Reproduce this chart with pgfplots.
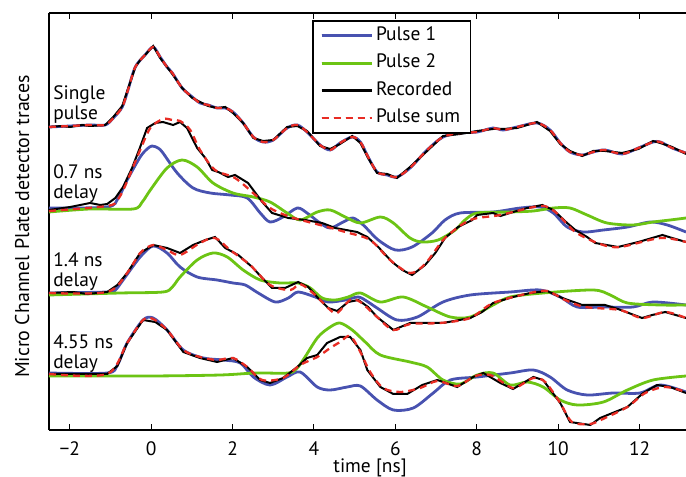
\documentclass[border=0pt]{standalone}
\usepackage{fontspec}
\setmainfont{PT Sans}
\usepackage{pgfplots}
\pgfplotsset{compat=1.18}
\definecolor{pone}{RGB}{72,82,176}
\definecolor{ptwo}{RGB}{108,196,20}
\definecolor{psum}{RGB}{232,44,36}
\newcommand{\ff}{\fontsize{19.5}{21}\selectfont}
\pgfplotsset{
  bl/.style={color=pone, line width=2.8bp, smooth, tension=0.5},
  gr/.style={color=ptwo, line width=2.8bp, smooth, tension=0.5},
  bk/.style={color=black, line width=2bp, sharp plot},
  rd/.style={color=psum, line width=2.3bp, dash pattern=on 7bp off 5bp, smooth, tension=0.5},
}
\begin{document}
\begin{tikzpicture}
\useasboundingbox (0,0) rectangle (686bp,477bp);
\begin{axis}[
  at={(49bp,47bp)}, anchor=south west,
  scale only axis, width=637bp, height=417bp,
  xmin=-2.51, xmax=13.14, ymin=47, ymax=464,
  axis x line*=box, axis y line*=left,
  ytick=\empty,
  xtick={-2,0,2,4,6,8,10,12},
  xticklabels={−2,0,2,4,6,8,10,12},
  major tick length=6bp,
  tick style={line width=1bp, black},
  axis line style={line width=1.3bp, black},
  xticklabel style={anchor=base, yshift=-25bp, font=\ff},
  xlabel={time [ns]},
  xlabel style={at={(axis description cs:0.504,-0.102)}, anchor=base, font=\ff},
  ylabel={Micro Channel Plate detector traces},
  ylabel style={at={(axis description cs:-0.042,0.488)}, anchor=center, font=\fontsize{20}{22}\selectfont},
  legend style={at={(axis description cs:0.4145,0.981)}, anchor=north west, draw=black, fill=white,
    preaction={draw=black, line width=2.4bp},
    inner xsep=7bp, inner ysep=4bp, row sep=6.5bp, font=\ff,
    nodes={inner ysep=2bp, inner xsep=3bp, text height=13bp, text depth=4bp}, cells={anchor=west}},
  legend image code/.code={\draw[#1] (0bp,0bp) -- (50bp,0bp);},
]
\addlegendimage{color=pone, line width=2.8bp}
\addlegendentry{Pulse 1}
\addlegendimage{color=ptwo, line width=2.8bp}
\addlegendentry{Pulse 2}
\addlegendimage{color=black, line width=2bp}
\addlegendentry{Recorded}
\addlegendimage{color=psum, line width=2.6bp, dash pattern=on 7bp off 5bp}
\addlegendentry{Pulse sum}
% ---- 0.7 ns delay ----
\addplot[bl, forget plot] coordinates {(-2.51,269)(-1.08,270)(-0.81,279)(-0.59,297)(-0.27,320)(-0.10,328)(0.02,331)(0.17,329)(0.29,324)(0.64,304)(1.03,289)(1.45,284)(1.94,282)(2.36,279)(2.68,264)(2.92,255)(3.24,260)(3.59,269)(3.83,264)(4.15,254)(4.40,249)(4.72,255)(4.96,259)(5.21,252)(5.58,237)(6.00,227)(6.41,230)(6.90,244)(7.22,257)(7.59,264)(8.40,265)(9.07,269)(9.56,270)(9.88,264)(10.22,250)(10.61,245)(11.11,247)(11.70,250)(12.26,255)(12.68,252)(13.14,245)};
\addplot[gr, forget plot] coordinates {(-2.51,265)(-1.50,268)(-0.44,268)(-0.22,275)(-0.02,287)(0.39,309)(0.76,317)(1.13,310)(1.52,294)(2.01,284)(2.51,280)(2.92,275)(3.34,264)(3.66,257)(4.08,265)(4.40,267)(4.77,260)(5.14,254)(5.63,260)(5.95,254)(6.36,239)(6.66,235)(7.05,237)(7.47,247)(7.71,257)(8.01,264)(8.82,265)(9.39,266)(9.88,269)(10.29,269)(10.71,262)(11.20,254)(11.84,252)(12.33,255)(12.75,257)(13.14,259)};
\addplot[bk, forget plot] coordinates {(-2.51,267)(-1.99,270)(-1.50,274)(-1.25,272)(-1.08,273)(-0.88,279)(-0.69,290)(-0.47,309)(-0.27,330)(-0.10,349)(0.10,354)(0.29,355)(0.54,352)(0.71,355)(0.88,349)(1.13,329)(1.33,319)(1.50,307)(1.65,305)(1.89,300)(2.06,302)(2.38,294)(2.73,275)(2.97,264)(3.37,259)(3.78,257)(4.20,254)(4.52,249)(5.06,245)(5.31,240)(5.58,230)(5.92,215)(6.17,207)(6.41,202)(6.73,212)(6.98,224)(7.22,239)(7.54,250)(7.89,257)(8.01,262)(8.40,264)(8.58,261)(8.89,265)(9.24,269)(9.61,272)(9.88,267)(10.22,254)(10.42,247)(10.71,240)(10.91,234)(11.47,230)(11.97,235)(12.56,242)(12.80,239)(13.14,235)};
\addplot[rd, forget plot] coordinates {(-2.51,266)(-1.08,271)(-0.83,277)(-0.64,291)(-0.27,327)(-0.02,349)(0.29,358)(0.52,357)(0.71,356)(0.96,347)(1.20,327)(1.57,307)(2.06,299)(2.56,282)(2.92,269)(3.42,260)(4.15,252)(4.77,245)(5.38,237)(5.87,217)(6.36,204)(6.73,213)(7.22,239)(7.84,257)(8.58,262)(9.56,271)(9.93,265)(10.42,245)(11.03,233)(11.52,230)(12.51,239)(13.14,235)};
% ---- single pulse ----
\addplot[bl, forget plot] coordinates {(-2.51,350)(-1.99,351)(-1.50,352)(-1.13,352)(-0.93,359)(-0.71,370)(-0.57,387)(-0.39,410)(-0.15,422)(0.05,430)(0.22,420)(0.39,410)(0.52,404)(0.76,389)(1.01,380)(1.20,374)(1.40,372)(1.62,369)(1.82,369)(2.01,365)(2.26,354)(2.51,340)(2.75,335)(3.00,337)(3.34,349)(3.59,352)(3.83,345)(4.15,332)(4.40,327)(4.64,334)(4.94,340)(5.14,335)(5.33,320)(5.55,305)(5.80,302)(6.04,300)(6.36,309)(6.78,327)(7.17,340)(7.59,344)(8.01,345)(8.40,349)(8.65,347)(8.99,350)(9.48,354)(9.80,347)(10.05,334)(10.29,325)(10.59,322)(10.86,325)(11.15,327)(11.57,323)(11.97,329)(12.33,335)(12.51,335)(12.80,329)(13.14,324)};
\addplot[bk, forget plot] coordinates {(-2.51,350)(-2.2,351)(-1.99,350)(-1.7,352)(-1.50,351)(-1.13,352)(-0.93,360)(-0.71,371)(-0.57,388)(-0.39,410)(-0.25,418)(-0.15,422)(0.05,431)(0.15,424)(0.22,419)(0.39,410)(0.52,403)(0.76,389)(1.01,379)(1.20,375)(1.40,371)(1.62,369)(1.82,370)(2.01,364)(2.26,354)(2.51,339)(2.75,336)(3.00,337)(3.34,350)(3.59,351)(3.83,346)(4.15,331)(4.40,328)(4.64,333)(4.94,341)(5.14,334)(5.33,319)(5.55,304)(5.80,303)(6.04,299)(6.36,310)(6.78,326)(7.17,341)(7.59,343)(8.01,346)(8.40,348)(8.65,348)(8.99,349)(9.48,355)(9.80,346)(10.05,333)(10.29,326)(10.59,321)(10.86,326)(11.15,326)(11.57,324)(11.97,328)(12.33,336)(12.51,334)(12.80,330)(13.14,323)};
\addplot[rd, forget plot] coordinates {(-2.51,350)(-1.99,351)(-1.50,352)(-1.13,352)(-0.93,359)(-0.71,370)(-0.57,387)(-0.39,410)(-0.15,422)(0.05,430)(0.22,420)(0.39,410)(0.52,404)(0.76,389)(1.01,380)(1.20,374)(1.40,372)(1.62,369)(1.82,369)(2.01,365)(2.26,354)(2.51,340)(2.75,335)(3.00,337)(3.34,349)(3.59,352)(3.83,345)(4.15,332)(4.40,327)(4.64,334)(4.94,340)(5.14,335)(5.33,320)(5.55,305)(5.80,302)(6.04,300)(6.36,309)(6.78,327)(7.17,340)(7.59,344)(8.01,345)(8.40,349)(8.65,347)(8.99,350)(9.48,354)(9.80,347)(10.05,334)(10.29,325)(10.59,322)(10.86,325)(11.15,327)(11.57,323)(11.97,329)(12.33,335)(12.51,335)(12.80,329)(13.14,324)};
% ---- 1.4 ns delay ----
\addplot[bl, forget plot] coordinates {(-2.51,184)(-1.08,185)(-0.88,187)(-0.69,197)(-0.27,220)(0.05,231)(0.39,224)(0.71,210)(1.13,200)(1.62,197)(2.01,194)(2.31,192)(2.63,184)(3.05,175)(3.37,179)(3.61,185)(4.03,180)(4.35,175)(4.77,177)(5.09,180)(5.33,175)(5.55,169)(6.04,157)(6.54,160)(7.17,175)(7.84,182)(8.82,185)(9.56,187)(10.05,180)(10.47,170)(11.11,170)(11.84,170)(12.33,175)(13.14,172)};
\addplot[gr, forget plot] coordinates {(-2.51,182)(-0.76,184)(0.29,185)(0.52,190)(0.71,200)(1.13,217)(1.52,224)(1.87,220)(2.26,207)(2.68,197)(3.17,194)(3.61,194)(3.91,189)(4.20,179)(4.52,177)(4.84,180)(5.14,184)(5.63,175)(6.19,180)(6.78,170)(7.35,160)(7.84,160)(8.40,172)(8.82,180)(9.63,184)(10.86,187)(11.28,182)(11.70,174)(12.51,172)(13.14,172)};
\addplot[bk, forget plot] coordinates {(-2.51,184)(-1.92,185)(-1.57,183)(-1.08,185)(-0.83,192)(-0.59,204)(-0.27,224)(0.05,232)(0.39,229)(0.71,224)(1.03,232)(1.33,237)(1.57,240)(1.82,229)(2.14,222)(2.48,210)(2.73,199)(2.97,189)(3.29,189)(3.61,195)(3.86,190)(4.10,179)(4.35,169)(4.57,166)(4.84,175)(5.09,177)(5.33,170)(5.55,160)(5.95,147)(6.36,154)(6.73,154)(7.17,154)(7.84,159)(8.13,165)(8.40,174)(8.89,180)(9.31,184)(9.73,186)(10.10,179)(10.59,172)(11.15,172)(11.47,168)(12.06,159)(12.31,162)(12.63,165)(13.14,159)};
\addplot[rd, forget plot] coordinates {(-2.51,184)(-1.08,185)(-0.59,204)(-0.27,224)(0.05,232)(0.39,227)(0.71,222)(1.20,234)(1.57,239)(1.94,227)(2.43,212)(2.92,192)(3.42,187)(3.66,193)(4.03,182)(4.40,167)(4.57,164)(4.89,177)(5.14,175)(5.55,160)(5.95,147)(6.36,153)(7.10,154)(7.84,159)(8.40,174)(9.31,184)(9.73,186)(10.17,177)(10.66,170)(11.52,167)(12.06,159)(12.63,165)(13.14,159)};
% ---- 4.55 ns delay ----
\addplot[bl, forget plot] coordinates {(-2.51,104)(-1.08,104)(-0.83,112)(-0.59,134)(-0.20,157)(0.05,159)(0.39,147)(0.79,127)(1.28,119)(1.77,117)(2.19,114)(2.51,100)(2.92,92)(3.34,100)(3.66,105)(4.08,90)(4.40,87)(4.82,90)(5.14,91)(5.55,77)(5.95,67)(6.44,69)(6.93,84)(7.35,97)(8.01,100)(8.82,104)(9.39,107)(9.80,100)(10.22,87)(10.71,82)(11.35,84)(12.01,84)(12.51,92)(13.14,85)};
\addplot[gr, forget plot] coordinates {(-2.51,101)(-0.02,101)(1.70,102)(2.56,104)(3.37,104)(3.59,109)(3.78,120)(4.10,140)(4.40,150)(4.64,154)(4.94,147)(5.26,135)(5.63,122)(6.36,115)(6.78,110)(7.17,97)(7.59,93)(8.01,102)(8.40,104)(8.82,92)(9.24,95)(9.63,90)(10.05,77)(10.47,72)(11.11,75)(11.70,87)(12.33,97)(13.14,101)};
\addplot[bk, forget plot] coordinates {(-2.51,103)(-1.08,103)(-0.83,111)(-0.59,134)(-0.20,157)(0.10,155)(0.39,147)(0.79,125)(1.20,119)(1.62,115)(2.01,119)(2.36,110)(2.68,97)(2.92,94)(3.24,99)(3.59,110)(3.83,119)(4.08,122)(4.32,134)(4.64,140)(4.89,140)(5.14,127)(5.31,107)(5.63,90)(5.95,83)(6.29,83)(6.66,92)(7.03,97)(7.52,90)(7.91,100)(8.16,104)(8.58,94)(8.89,88)(9.39,100)(9.63,97)(10.05,74)(10.29,55)(10.79,52)(11.03,59)(11.70,70)(12.09,84)(12.43,92)(12.75,90)(13.14,84)};
\addplot[rd, forget plot] coordinates {(-2.51,103)(-1.08,103)(-0.59,134)(-0.20,157)(0.05,158)(0.39,147)(0.79,127)(1.20,120)(1.62,117)(2.01,119)(2.36,110)(2.73,97)(3.24,99)(3.66,112)(4.08,120)(4.40,129)(4.64,135)(4.89,141)(5.14,125)(5.38,105)(5.70,89)(6.12,85)(6.61,89)(7.03,96)(7.52,91)(7.96,101)(8.33,102)(8.70,93)(8.94,89)(9.39,99)(9.68,95)(10.05,74)(10.34,55)(10.79,53)(11.15,59)(11.70,70)(12.14,84)(12.63,90)(13.14,85)};
% ---- group labels ----
\begin{scope}[every node/.style={anchor=north west, align=left, inner sep=0pt, font=\ff}]
\node at (axis cs:-2.41,392) {Single\\pulse};
\node at (axis cs:-2.41,313) {0.7 ns\\delay};
\node at (axis cs:-2.41,225) {1.4 ns\\delay};
\node at (axis cs:-2.41,143) {4.55 ns\\delay};
\end{scope}
\end{axis}
\end{tikzpicture}
\end{document}
